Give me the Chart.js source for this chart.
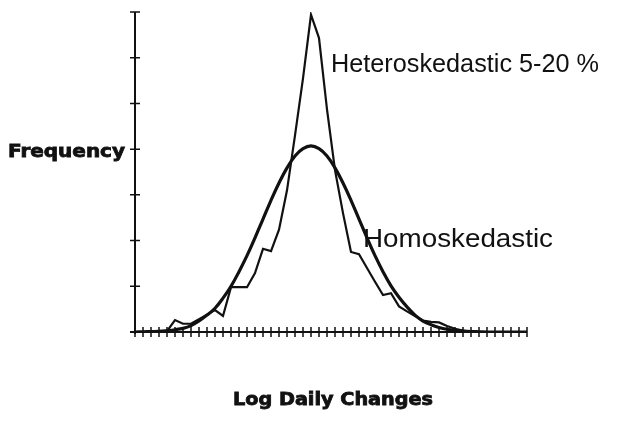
<!DOCTYPE html>
<html>
<head>
<meta charset="utf-8">
<title>Log Daily Changes</title>
<script src="https://cdn.jsdelivr.net/npm/chart.js@4.4.1/dist/chart.umd.min.js"></script>
<style>
    html, body { margin: 0; padding: 0; background: #fff; }
    #wrap { width: 633px; height: 425px; position: relative; }
</style>
</head>
<body>
<div id="wrap"><canvas id="chart"></canvas></div>
<script>
// Bins along the x axis (one per tick mark)
const bins = Array.from({ length: 50 }, (_, i) => i);

// Heteroskedastic 5-20 %
const heteroValues = [
    0, 0, 0, 0, 0.02, 0.26, 0.18, 0.18, 0.28, 0.38,
    0.48, 0.35, 0.98, 0.98, 0.98, 1.29, 1.82, 1.77, 2.24, 3.1,
    4.3, 5.55, 6.94, 6.43, 4.87, 3.54, 2.6, 1.75, 1.7, 1.4,
    1.1, 0.81, 0.85, 0.56, 0.45, 0.35, 0.25, 0.22, 0.21, 0.13,
    0.07, 0.03, 0, 0, 0, 0, 0, 0, 0, 0
];

// Homoskedastic (normal curve)
const homoValues = [
    0, 0.005, 0.01, 0.015, 0.03, 0.05, 0.08, 0.14, 0.24, 0.37,
    0.52, 0.74, 1.0, 1.32, 1.67, 2.06, 2.47, 2.88, 3.26, 3.59,
    3.85, 4.01, 4.07, 4.01, 3.85, 3.59, 3.26, 2.88, 2.47, 2.06,
    1.67, 1.32, 1.01, 0.76, 0.55, 0.37, 0.24, 0.16, 0.1, 0.06,
    0.035, 0.02, 0.01, 0.005, 0, 0, 0, 0, 0, 0
];

// Y axis tick values (frequency, no labels)
const yTicks = [0, 1, 2, 3, 4, 5, 6, 7];

const ink = '#111';

// Draw text stretched to a given width
function fitText(ctx, text, x, y, width, font, heavy) {
    ctx.save();
    ctx.font = font;
    const w = ctx.measureText(text).width;
    ctx.translate(x, y);
    ctx.scale(width / w, 1);
    ctx.fillText(text, 0, 0);
    if (heavy) {
        ctx.lineWidth = 0.8;
        ctx.strokeText(text, 0, 0);
    }
    ctx.restore();
}

// Axes with crossing tick marks, plus labels
const axesPlugin = {
    id: 'axesPlugin',
    afterDraw(chart) {
        const ctx = chart.ctx;
        const xs = chart.scales.x;
        const ys = chart.scales.y;
        const area = chart.chartArea;
        ctx.save();
        ctx.strokeStyle = ink;
        ctx.fillStyle = ink;

        // axis lines
        ctx.lineWidth = 2;
        ctx.beginPath();
        ctx.moveTo(area.left, area.top);
        ctx.lineTo(area.left, area.bottom + 2);
        ctx.moveTo(area.left - 5, area.bottom);
        ctx.lineTo(area.right, area.bottom);
        ctx.stroke();

        // tick marks
        ctx.lineWidth = 1.5;
        ctx.beginPath();
        yTicks.forEach(v => {
            const py = ys.getPixelForValue(v);
            ctx.moveTo(area.left - 5, py);
            ctx.lineTo(area.left + 5, py);
        });
        bins.forEach((b, i) => {
            const px = xs.getPixelForValue(i);
            ctx.moveTo(px, area.bottom - 5);
            ctx.lineTo(px, area.bottom + 5);
        });
        ctx.stroke();

        // labels
        ctx.textBaseline = 'alphabetic';
        ctx.textAlign = 'left';
        fitText(ctx, 'Frequency', 8, 157, 117, 'bold 17px "DejaVu Sans", sans-serif', true);
        fitText(ctx, 'Log Daily Changes', 233, 405, 200, 'bold 17px "DejaVu Sans", sans-serif', true);
        fitText(ctx, 'Heteroskedastic 5-20 %', 331, 72, 268, '25px "Liberation Sans", Arial, sans-serif');
        fitText(ctx, 'Homoskedastic', 363, 247, 190, '26px "Liberation Sans", Arial, sans-serif');
        ctx.restore();
    }
};

function initChart() {
    const ctx = document.getElementById('chart').getContext('2d');
    new Chart(ctx, {
        type: 'line',
        data: {
            labels: bins,
            datasets: [
                {
                    label: 'Heteroskedastic 5-20 %',
                    data: heteroValues,
                    borderColor: ink,
                    borderWidth: 2.2,
                    pointRadius: 0,
                    tension: 0,
                    fill: false
                },
                {
                    label: 'Homoskedastic',
                    data: homoValues,
                    borderColor: ink,
                    borderWidth: 3.2,
                    pointRadius: 0,
                    tension: 0.4,
                    fill: false
                }
            ]
        },
        options: {
            responsive: true,
            maintainAspectRatio: false,
            animation: false,
            layout: {
                padding: { left: 127, right: 106, top: 12, bottom: 85 }
            },
            plugins: {
                legend: { display: false },
                tooltip: { enabled: false }
            },
            scales: {
                x: {
                    type: 'category',
                    offset: false,
                    grid: { display: false },
                    border: { display: false },
                    ticks: { display: false, autoSkip: false }
                },
                y: {
                    min: 0,
                    max: 7,
                    grid: { display: false },
                    border: { display: false },
                    ticks: { display: false, stepSize: 1 }
                }
            }
        },
        plugins: [axesPlugin]
    });
}

document.addEventListener('DOMContentLoaded', initChart);
</script>
</body>
</html>
